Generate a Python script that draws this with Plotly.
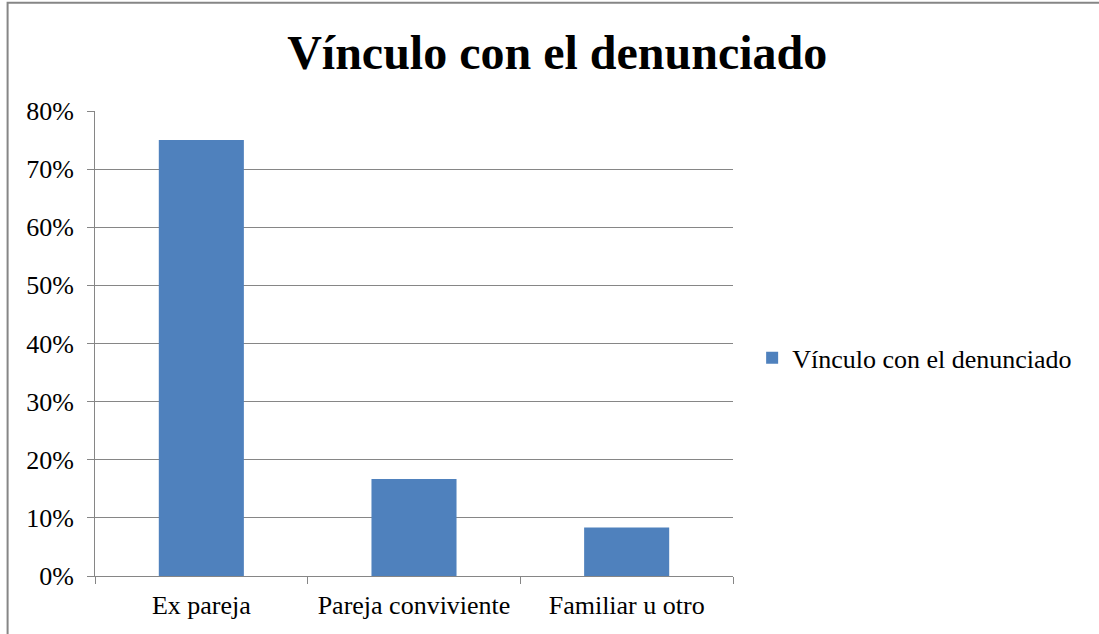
import plotly.graph_objects as go

# Datos del gráfico
categorias = ["Ex pareja", "Pareja conviviente", "Familiar u otro"]
valores = [0.75, 0.1667, 0.0833]
nombre_serie = "Vínculo con el denunciado"
titulo = "Vínculo con el denunciado"

fuente = "Times New Roman, Liberation Serif, serif"
gris = "#868686"

fig = go.Figure()

fig.add_trace(go.Bar(
    x=categorias,
    y=valores,
    name=nombre_serie,
    marker=dict(color="#4F81BD", line=dict(width=0)),
    showlegend=True,
))

fig.update_layout(
    width=1099,
    height=634,
    margin=dict(l=95, r=366, t=111, b=58),
    paper_bgcolor="white",
    plot_bgcolor="white",
    font=dict(family=fuente, size=26, color="black"),
    title=dict(
        text="<b>" + titulo + "</b>",
        font=dict(family=fuente, size=48, color="black"),
        x=0.507, xanchor="center",
        y=0.918, yanchor="middle",
    ),
    bargap=0.6,
    showlegend=True,
    legend=dict(
        x=1.03, xanchor="left",
        y=0.469, yanchor="middle",
        font=dict(family=fuente, size=26, color="black"),
        bgcolor="rgba(0,0,0,0)",
    ),
)

fig.update_yaxes(
    range=[0, 0.8],
    dtick=0.1,
    tickformat=".0%",
    showgrid=True,
    gridcolor=gris,
    gridwidth=1,
    showline=True,
    linecolor=gris,
    linewidth=1,
    ticks="outside",
    ticklen=7,
    tickcolor=gris,
    ticklabelstandoff=8,
    zeroline=False,
)

fig.update_xaxes(
    showline=True,
    linecolor=gris,
    linewidth=1,
    ticks="outside",
    tickson="boundaries",
    ticklen=7,
    tickcolor=gris,
    ticklabelstandoff=6,
    showgrid=False,
)

# Marco del gráfico
fig.add_shape(
    type="rect",
    xref="paper", yref="paper",
    x0=-0.137, x1=2.0, y0=-1.0, y1=1.233,
    line=dict(color=gris, width=2),
    fillcolor="rgba(0,0,0,0)",
    layer="below",
)

fig.write_html(
    "out.html",
    config={"displayModeBar": False},
    post_script="document.body.style.margin='0';",
)
